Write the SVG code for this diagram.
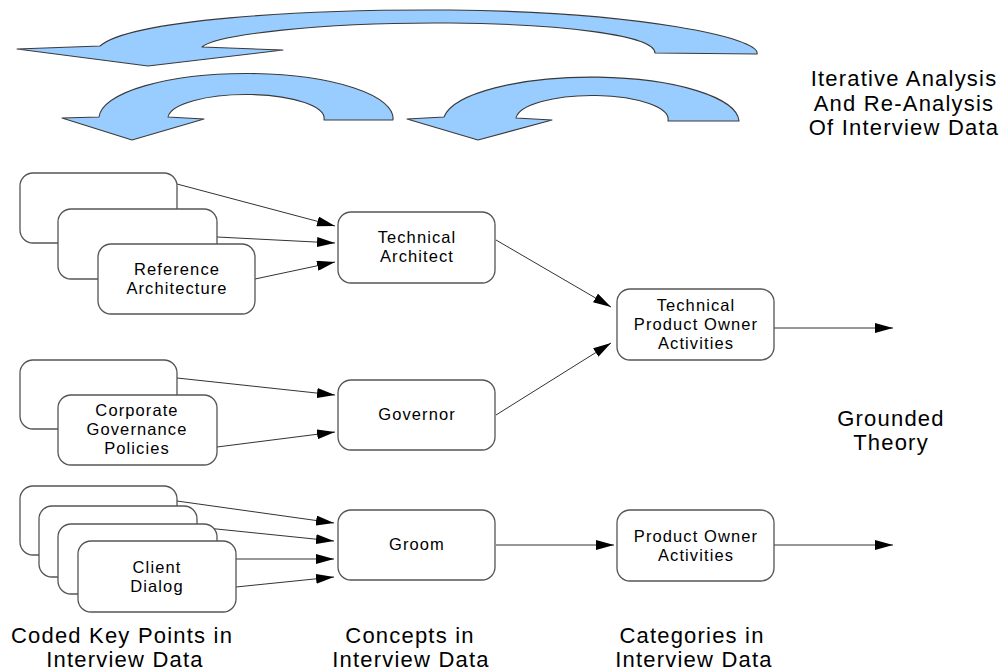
<svg xmlns="http://www.w3.org/2000/svg" width="1002" height="672" viewBox="0 0 1002 672">
<style>
.box{fill:#ffffff;stroke:#555555;stroke-width:1.3}
.bt{font-family:"Liberation Sans",Arial,sans-serif;font-size:16.5px;letter-spacing:1.1px;fill:#000;text-anchor:middle}
.lbl{font-family:"Liberation Sans",Arial,sans-serif;font-size:22px;letter-spacing:1.2px;fill:#000;text-anchor:middle}
.con{stroke:#333333;stroke-width:1;fill:none;marker-end:url(#ah)}
.big{fill:#99ccff;stroke:#3a3a3a;stroke-width:1.1;stroke-linejoin:round}
</style>
<defs>
<marker id="ah" markerUnits="userSpaceOnUse" markerWidth="18" markerHeight="10" refX="18" refY="5" orient="auto">
<path d="M0,0 L18,5 L0,10 Z" fill="#000"/>
</marker>
</defs>
<rect width="1002" height="672" fill="#ffffff"/>
<g id="iteration-arrows">
<path class="big" d="M757,54 C762,38 640,12 450,10 C300,9 130,20 100,46 L17,49 L148,66 L283,50 L202,47 C215,35 320,22 450,23 C560,24 655,35 655,53 Z"/>
<path class="big" d="M393,120 A147,45 0 0 0 99,117 L62,118 L132,140 L204,119 L168,117 A78,24 0 0 1 324,120 Z"/>
<path class="big" d="M739,121 A148,45 0 0 0 444,117 L407,119 L478,140 L552,120 L516,118 A76,24 0 0 1 668,121 Z"/>
</g>
<g id="connectors">
<line class="con" x1="177" y1="184" x2="335" y2="226"/>
<line class="con" x1="217" y1="237" x2="335" y2="243"/>
<line class="con" x1="255" y1="279" x2="335" y2="262"/>
<line class="con" x1="177" y1="378" x2="335" y2="395"/>
<line class="con" x1="217" y1="447" x2="335" y2="432"/>
<line class="con" x1="177" y1="501" x2="334" y2="523"/>
<line class="con" x1="197" y1="527" x2="334" y2="541"/>
<line class="con" x1="217" y1="559" x2="334" y2="559"/>
<line class="con" x1="236" y1="587" x2="334" y2="577"/>
<line class="con" x1="496" y1="240" x2="611" y2="307"/>
<line class="con" x1="496" y1="415" x2="611" y2="343"/>
<line class="con" x1="774" y1="328" x2="893" y2="328"/>
<line class="con" x1="496" y1="545" x2="614" y2="545"/>
<line class="con" x1="774" y1="545" x2="893" y2="545"/>
</g>
<g id="code-ra-1"><rect class="box" x="20" y="173" width="157" height="70" rx="13"/></g>
<g id="code-ra-2"><rect class="box" x="58" y="209" width="159" height="70" rx="13"/></g>
<g id="code-ra-3"><rect class="box" x="98" y="244" width="157" height="70" rx="13"/><text class="bt" x="177" y="275">Reference</text><text class="bt" x="177" y="294">Architecture</text></g>
<g id="technical-architect"><rect class="box" x="338" y="212" width="157" height="71" rx="13"/><text class="bt" x="417" y="243">Technical</text><text class="bt" x="417" y="262">Architect</text></g>
<g id="code-cg-1"><rect class="box" x="20" y="360" width="157" height="69" rx="13"/></g>
<g id="code-cg-2"><rect class="box" x="58" y="395" width="159" height="70" rx="13"/><text class="bt" x="137" y="416">Corporate</text><text class="bt" x="137" y="435">Governance</text><text class="bt" x="137" y="454">Policies</text></g>
<g id="governor"><rect class="box" x="338" y="380" width="157" height="70" rx="13"/><text class="bt" x="417" y="420">Governor</text></g>
<g id="code-cd-1"><rect class="box" x="20" y="486" width="157" height="69" rx="13"/></g>
<g id="code-cd-2"><rect class="box" x="39" y="506" width="158" height="71" rx="13"/></g>
<g id="code-cd-3"><rect class="box" x="58" y="524" width="159" height="70" rx="13"/></g>
<g id="code-cd-4"><rect class="box" x="78" y="541" width="158" height="71" rx="13"/><text class="bt" x="157" y="573">Client</text><text class="bt" x="157" y="592">Dialog</text></g>
<g id="groom"><rect class="box" x="338" y="510" width="157" height="70" rx="13"/><text class="bt" x="417" y="550">Groom</text></g>
<g id="tpo-activities"><rect class="box" x="617" y="289" width="157" height="71" rx="13"/><text class="bt" x="696" y="311">Technical</text><text class="bt" x="696" y="330">Product Owner</text><text class="bt" x="696" y="349">Activities</text></g>
<g id="po-activities"><rect class="box" x="617" y="510" width="157" height="71" rx="13"/><text class="bt" x="696" y="542">Product Owner</text><text class="bt" x="696" y="561">Activities</text></g>
<g id="labels">
<text class="lbl" x="904" y="86">Iterative Analysis</text>
<text class="lbl" x="904" y="111">And Re-Analysis</text>
<text class="lbl" x="904" y="135">Of Interview Data</text>
<text class="lbl" x="891" y="426">Grounded</text>
<text class="lbl" x="891" y="450">Theory</text>
<text class="lbl" x="122" y="643">Coded Key Points in</text>
<text class="lbl" x="125" y="667">Interview Data</text>
<text class="lbl" x="410" y="643">Concepts in</text>
<text class="lbl" x="411" y="667">Interview Data</text>
<text class="lbl" x="692" y="643">Categories in</text>
<text class="lbl" x="694" y="667">Interview Data</text>
</g>
</svg>
